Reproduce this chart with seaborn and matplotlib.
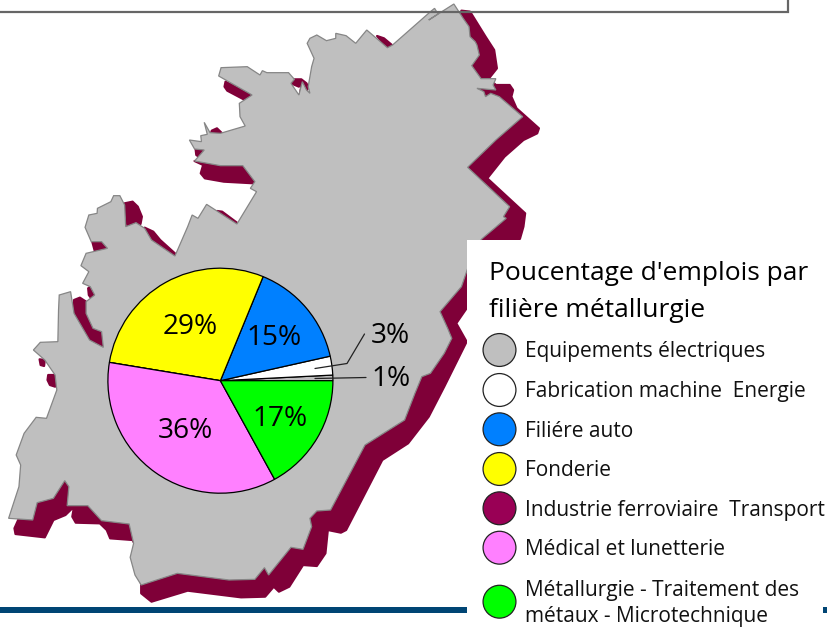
import matplotlib
matplotlib.use("Agg")
import matplotlib.pyplot as plt
from matplotlib.patches import Polygon, Rectangle
import numpy as np
import pandas as pd
import seaborn as sns

# ---------- data ----------
categories = ["Equipements électriques", "Fabrication machine  Energie", "Filiére auto", "Fonderie",
              "Industrie ferroviaire  Transport", "Médical et lunetterie",
              "Métallurgie - Traitement des\nmétaux - Microtechnique"]
shares = [0.8, 2.7, 15.3, 28.6, 0.0, 35.6, 17.0]
share_labels = ["1%", "3%", "15%", "29%", "", "36%", "17%"]
colors = ["#bfbfbf", "#ffffff", "#0080ff", "#ffff00", "#990055", "#ff80ff", "#00ff00"]
title_lines = ["Poucentage d'emplois par", "filière métallurgie"]

# map outline (3x crop units)
region = [(1318,12),(1345,55),(1362,80),(1365,110),(1380,125),(1385,135),(1392,165),(1370,197),(1397,236),(1440,236),
 (1432,255),(1440,270),(1385,265),(1405,275),(1410,290),(1425,280),(1450,290),(1518,350),(1440,420),(1358,502),(1480,620),
 (1462,650),(1470,655),(1430,690),(1400,716),(1380,740),(1360,800),(1340,860),(1278,935),(1300,985),(1312,1015),
 (1290,1060),(1250,1120),(1225,1130),(1205,1180),(1175,1260),(1060,1335),(960,1530),(920,1533),(900,1555),(905,1580),
 (880,1648),(845,1642),(780,1725),(768,1703),(740,1738),(665,1740),(515,1720),(410,1755),(392,1725),(378,1672),
 (388,1630),(375,1572),(295,1562),(255,1517),(195,1517),(200,1460),(188,1442),(155,1495),(108,1508),(95,1560),
 (25,1555),(55,1460),(60,1395),(47,1365),(70,1300),(105,1252),(135,1255),(165,1170),(160,1125),(130,1080),(97,1050),
 (117,1027),(168,1025),(170,930),(172,885),(205,875),(215,940),(260,1020),(300,1042),(295,995),(270,985),(250,940),
 (250,905),(275,885),(262,860),(240,850),(258,815),(235,797),(250,760),(312,745),(295,725),(265,725),(247,682),
 (258,645),(282,640),(283,625),(322,605),(330,587),(348,587),(362,615),(365,680),(395,668),(420,685),(440,720),
 (508,768),(545,680),(558,645),(575,655),(600,613),(630,633),(688,672),(745,575),(727,565),(740,545),(705,497),
 (640,497),(565,483),(593,450),(565,447),(550,420),(585,425),(583,407),(602,403),(593,367),(610,398),(640,400),
 (712,378),(697,350),(695,310),(732,285),(635,228),(642,203),(718,200),(755,225),(762,212),(775,218),(838,218),
 (855,238),(845,250),(868,285),(878,245),(890,270),(900,280),(895,260),(905,200),(912,175),(892,130),(900,115),
 (920,105),(948,122),(975,115),(975,100),(1005,107),(1033,130),(1065,90),(1125,143),(1140,135),(1250,35),(1262,25),
 (1272,42),(1245,60),(1318,12)]

shadow_main = [(1340,32),(1365,35),(1410,110),(1435,150),(1443,205),(1420,235),(1440,255),(1480,255),(1490,270),
 (1485,290),(1500,325),(1565,385),(1560,400),(1520,420),(1465,470),(1415,535),(1525,640),(1520,680),(1510,716),
 (1440,800),(1370,830),(1382,880),(1355,925),(1325,970),(1355,1025),(1290,1160),(1245,1250),(1185,1330),(1110,1380),
 (1005,1590),(990,1598),(952,1590),(945,1660),(920,1698),(880,1695),(840,1760),(810,1775),(795,1760),(770,1790),
 (700,1792),(545,1772),(440,1805),(410,1780),(410,1755),(400,1650),(385,1620),(320,1615),(310,1590),(290,1570),
 (220,1568),(210,1550),(215,1520),(190,1545),(155,1560),(130,1612),(45,1602),(42,1585),(55,1555),(100,1500),
 (400,1300),(1200,500)]
shadow_bits = [
 [(215,940),(215,900),(232,893),(250,905),(250,940),(270,985),(295,995),(300,1042),(260,1020)],
 [(256,865),(262,860),(275,885),(265,895),(258,885)],
 [(268,725),(295,725),(312,745),(275,752)],
 [(362,610),(385,605),(400,620),(412,650),(408,672),(395,668),(370,678)],
 [(420,683),(445,695),(465,720),(510,762),(508,768),(440,720)],
 [(630,633),(645,635),(688,668),(670,665)],
 [(565,483),(705,497),(740,545),(738,550),(650,545),(595,535),(583,520),(590,495)],
 [(568,447),(593,450),(580,472),(570,465)],
 [(615,392),(630,385),(645,400),(612,402)],
 [(655,245),(730,285),(715,302),(660,272),(652,260)],
 [(845,250),(855,238),(875,238),(890,250),(895,262),(885,285),(870,287),(878,245),(868,260)],
 [(1095,108),(1115,115),(1138,135),(1125,145)],
 [(115,1078),(130,1080),(128,1098),(118,1095)],
 [(140,1125),(160,1125),(160,1160),(145,1155),(138,1140)],
]

# ---------- figure in pixel space ----------
W, H = 828, 628
sns.set_theme(style="white")
plt.rcParams["font.family"] = ["Open Sans", "DejaVu Sans"]
fig = plt.figure(figsize=(W / 100, H / 100), dpi=100)
ax = fig.add_axes([0, 0, 1, 1])

def to_px(pts):
    a = np.asarray(pts, float)
    return np.column_stack([a[:, 0] / 2.904, H - a[:, 1] / 3.0])

def py(v):
    return H - v

MAROON = "#7f0038"
for part in [shadow_main] + shadow_bits:
    ax.add_patch(Polygon(to_px(part), closed=True, fc=MAROON, ec=MAROON, lw=1.6, joinstyle="round", zorder=1))
ax.add_patch(Polygon(to_px(region), closed=True, fc="#bfbfbf", ec="#868686", lw=0.9, zorder=2))

# top frame
ax.plot([0, 788, 788], [py(11.5), py(11.5), H + 2], color="#666666", lw=1.6, zorder=3, solid_joinstyle="miter")
# bottom rule
ax.add_patch(Rectangle((0, py(612.5)), W, 6, fc="#004574", ec="none", zorder=1.5))

# pie
wedges, _ = ax.pie(shares, colors=colors, startangle=0, counterclock=True, center=(220.4, py(380.7)), radius=112.5,
                   wedgeprops=dict(edgecolor="black", linewidth=0.9, zorder=4), frame=True)
for w in wedges:
    w.set_zorder(4)
ax.set_xlim(0, W)
ax.set_ylim(0, H)
ax.set_axis_off()

label_pos = {"29%": (190, 327), "15%": (274.5, 338), "3%": (390, 336), "1%": (391, 379.5),
             "17%": (280, 418.5), "36%": (185.5, 431)}
for lab in share_labels:
    if lab:
        x, y = label_pos[lab]
        ax.text(x, py(y), lab, fontsize=20.2, color="black", ha="center", va="center", zorder=6)
ax.plot([315, 347, 364.5], [py(368.5), py(363.5), py(334)], color="#222222", lw=0.9, zorder=5)
ax.plot([315, 366], [py(378.5), py(377.5)], color="#222222", lw=0.9, zorder=5)

# legend panel
ax.add_patch(Rectangle((467, 0), W - 467, py(240), fc="white", ec="none", zorder=7))
ax.add_patch(Rectangle((823, py(612.5)), 5, 6, fc="#004574", ec="none", zorder=7.5))
for line, base in zip(title_lines, [280, 317]):
    ax.text(489, py(base), line, fontsize=19.0, color="black", ha="left", va="baseline", zorder=8)

legend_y = [350, 390, 429.3, 469, 508.3, 547.7, 601.7]
swatches = pd.DataFrame({"x": [499.5] * len(categories), "y": [py(v) for v in legend_y], "cat": categories})
sns.scatterplot(data=swatches, x="x", y="y", hue="cat", palette=colors, s=560, edgecolor="#222222",
                linewidth=0.9, legend=False, ax=ax, zorder=8, clip_on=False)
ax.set_xlim(0, W)
ax.set_ylim(0, H)
ax.set_axis_off()
for cat, y in zip(categories, legend_y):
    ax.text(525, py(y + 2), cat, fontsize=15.0, color="#111111", ha="left", va="center", linespacing=1.32, zorder=8)

fig.savefig("out.png", dpi=100)
